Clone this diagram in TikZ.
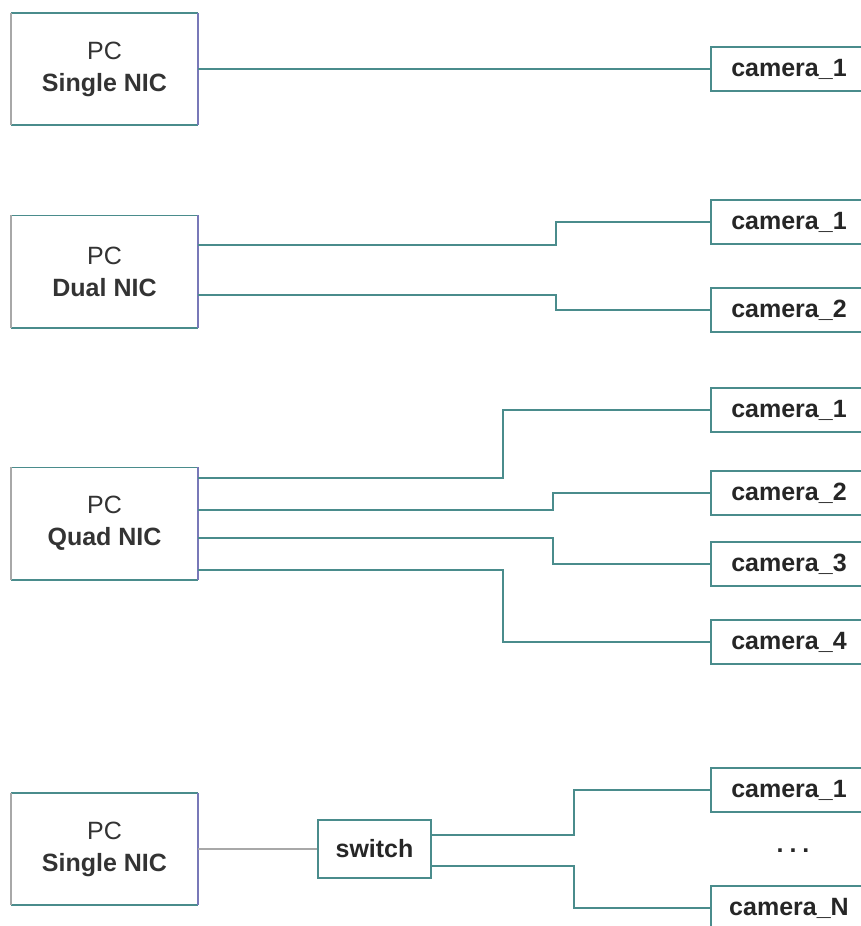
\documentclass[tikz,border=0pt]{standalone}
\usepackage{fontspec}
\setmainfont{Liberation Sans}
\definecolor{tealc}{HTML}{4A8C8C}
\definecolor{greyc}{HTML}{A8A8A8}
\definecolor{bluec}{HTML}{7878B8}
\newcommand\pcsides[1]{%
  \draw[tealc, line width=1.6pt] (#1.north west) -- (#1.north east);
  \draw[tealc, line width=1.6pt] (#1.south west) -- (#1.south east);
  \draw[greyc, line width=1.6pt] (#1.north west) -- (#1.south west);
  \draw[bluec, line width=1.6pt] (#1.north east) -- (#1.south east);}
\tikzset{
  pcbox/.style={minimum width=187pt, minimum height=112pt, align=center, inner sep=0pt,
    font=\fontsize{25}{32}\selectfont, text=black!80},
  cambox/.style={draw=tealc, line width=1.6pt, minimum width=156pt, minimum height=44pt, inner sep=0pt,
    font=\fontsize{25}{28}\selectfont\bfseries, text=black!85},
  swbox/.style={draw=tealc, line width=1.6pt, minimum width=113pt, minimum height=58pt, inner sep=0pt,
    font=\fontsize{25}{28}\selectfont\bfseries, text=black!85},
  wire/.style={draw=tealc, line width=1.6pt}
}
\begin{document}
\begin{tikzpicture}[x=1pt,y=-1pt]
\useasboundingbox (0,0) rectangle (860,926);
% row 1
\node[pcbox] (pc1) at (104.5,69) {PC\\\textbf{Single NIC}};
\pcsides{pc1}
\node[cambox] (c11) at (789,69) {camera\_1};
\draw[wire] (pc1.east) -- (c11.west);
% row 2
\node[pcbox] (pc2) at (104.5,271.5) {PC\\\textbf{Dual NIC}};
\pcsides{pc2}
\node[cambox] (c21) at (789,222) {camera\_1};
\node[cambox] (c22) at (789,310) {camera\_2};
\draw[wire] ([yshift=26.5pt]pc2.east) -- ++(358,0) |- (c21.west);
\draw[wire] ([yshift=-23.5pt]pc2.east) -- ++(358,0) |- (c22.west);
% row 3
\node[pcbox] (pc3) at (104.5,523.5) {PC\\\textbf{Quad NIC}};
\pcsides{pc3}
\node[cambox] (c31) at (789,410) {camera\_1};
\node[cambox] (c32) at (789,493) {camera\_2};
\node[cambox] (c33) at (789,564) {camera\_3};
\node[cambox] (c34) at (789,642) {camera\_4};
\draw[wire] ([yshift=45.5pt]pc3.east) -- ++(305,0) |- (c31.west);
\draw[wire] ([yshift=13.5pt]pc3.east) -- ++(355,0) |- (c32.west);
\draw[wire] ([yshift=-14.5pt]pc3.east) -- ++(355,0) |- (c33.west);
\draw[wire] ([yshift=-46.5pt]pc3.east) -- ++(305,0) |- (c34.west);
% row 4
\node[pcbox] (pc4) at (104.5,849) {PC\\\textbf{Single NIC}};
\pcsides{pc4}
\node[swbox] (sw) at (374.5,849) {switch};
\node[cambox] (c41) at (789,790) {camera\_1};
\node[cambox] (c4n) at (789,908) {camera\_N};
\node[font=\fontsize{25}{28}\selectfont\bfseries, text=black!85] (dots) at (793,851) {.\hspace{6pt}.\hspace{6pt}.};
\draw[draw=greyc, line width=1.6pt] (pc4.east) -- (sw.west);
\draw[wire] ([yshift=14pt]sw.east) -- ++(142,0) |- (c41.west);
\draw[wire] ([yshift=-17pt]sw.east) -- ++(142,0) |- (c4n.west);
\end{tikzpicture}
\end{document}
